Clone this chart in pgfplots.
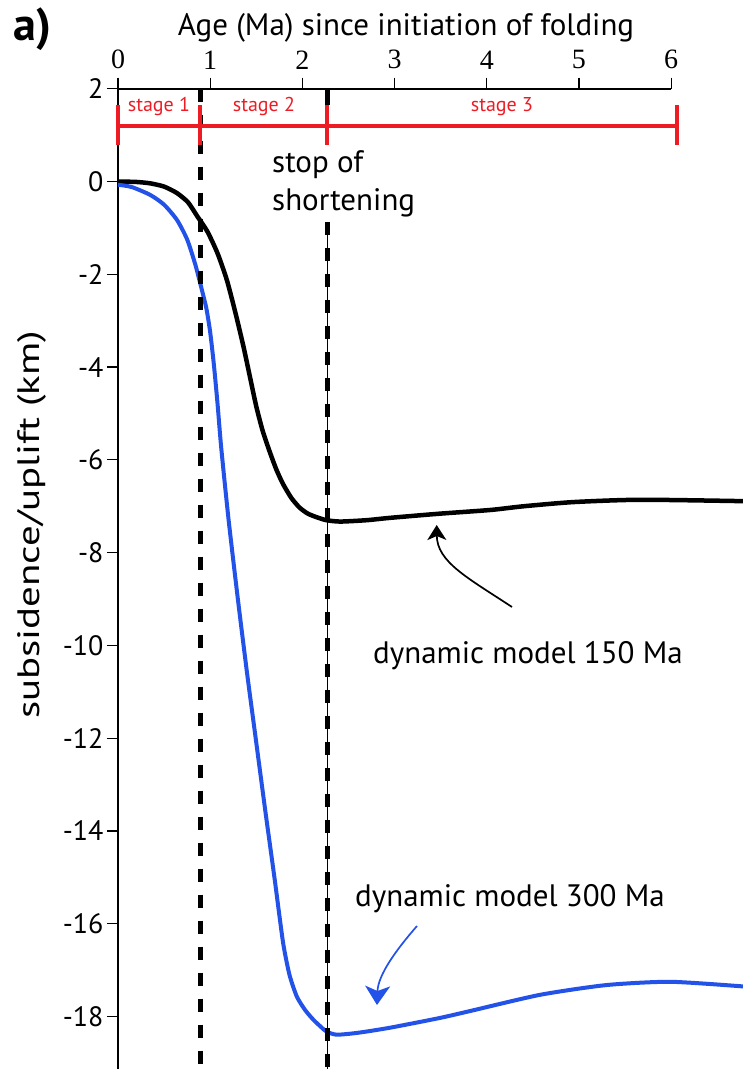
\documentclass[border=0pt]{standalone}
\usepackage{fontspec}
\setmainfont{PT Sans}
\newfontfamily\serifdigits{Liberation Serif}
\usepackage{pgfplots}
\pgfplotsset{compat=1.18}
\usetikzlibrary{arrows.meta}
\definecolor{stagered}{RGB}{237,28,36}
\definecolor{modelblue}{RGB}{35,82,232}

% subsidence/uplift (km) versus age since initiation of folding (Ma)
\pgfplotstableread{
x y
0.00 0.00
0.20 -0.01
0.35 -0.04
0.50 -0.11
0.64 -0.25
0.76 -0.45
0.86 -0.75
0.97 -1.08
1.08 -1.55
1.18 -2.12
1.27 -2.80
1.36 -3.55
1.43 -4.20
1.50 -4.85
1.57 -5.38
1.65 -5.85
1.72 -6.22
1.79 -6.52
1.88 -6.82
1.97 -7.03
2.06 -7.16
2.16 -7.24
2.26 -7.30
2.41 -7.33
2.70 -7.30
2.95 -7.25
3.49 -7.16
4.04 -7.08
4.40 -7.00
4.94 -6.91
5.66 -6.86
6.78 -6.89
}\modelonefifty

\pgfplotstableread{
x y
0.00 -0.07
0.15 -0.12
0.35 -0.29
0.50 -0.50
0.64 -0.83
0.75 -1.25
0.84 -1.80
0.92 -2.42
0.96 -2.75
1.00 -3.25
1.04 -3.95
1.08 -4.80
1.12 -5.75
1.20 -7.30
1.30 -9.00
1.40 -10.60
1.50 -12.10
1.60 -13.60
1.70 -15.05
1.79 -16.40
1.86 -17.10
1.94 -17.57
2.03 -17.86
2.12 -18.07
2.20 -18.22
2.26 -18.32
2.37 -18.39
2.60 -18.35
2.95 -18.24
3.49 -18.03
3.82 -17.88
4.58 -17.53
5.30 -17.32
5.99 -17.25
6.78 -17.35
}\modelthreehundred

\begin{document}
\begin{tikzpicture}
\path[use as bounding box] (0pt,0pt) rectangle (743pt,-1069pt);
\begin{axis}[
  at={(118pt,-1069pt)}, anchor=south west,
  scale only axis, width=625pt, height=980.3pt,
  xmin=0, xmax=6.779, ymin=-19.13, ymax=2,
  axis x line*=top, axis y line*=left,
  x axis line style={draw=none},
  y axis line style={line width=1.6pt},
  xtick={0,1,2,3,4,5,6},
  xticklabels={0,1,2,3,4,5,6},
  xticklabel style={font=\fontsize{28}{28}\serifdigits, yshift=5pt},
  ytick={-18,-16,-14,-12,-10,-8,-6,-4,-2,0,2},
  yticklabels={-18,-16,-14,-12,-10,-8,-6,-4,-2,0,2},
  yticklabel style={font=\fontsize{28}{28}\selectfont},
  tick align=outside,
  major tick length=11pt,
  every tick/.style={black, line width=1.2pt},
  clip=false,
]
% top age axis only spans 0--6 Ma
\draw[line width=1.6pt] (axis cs:0,2) -- (axis cs:6,2);

\addplot[black, line width=4.5pt, smooth, tension=0.4] table {\modelonefifty};
\addplot[modelblue, line width=4pt, smooth, tension=0.4] table {\modelthreehundred};

% stage boundaries
\addplot[black, line width=5pt, dash pattern=on 13pt off 13pt] coordinates {(0.89,2) (0.89,-19.05)};
\addplot[black, line width=5pt] coordinates {(2.27,2) (2.27,1.65)};
\addplot[black, line width=1.2pt] coordinates {(2.27,-0.87) (2.27,-19.13)};
\addplot[black, line width=5pt, dash pattern=on 13pt off 13pt] coordinates {(2.27,-0.87) (2.27,-19.13)};

% stage bar
\addplot[stagered, line width=4pt] coordinates {(0,1.20) (6.06,1.20)};
\addplot[stagered, line width=4pt] coordinates {(0,1.65) (0,0.78)};
\addplot[stagered, line width=4pt] coordinates {(0.89,1.65) (0.89,0.78)};
\addplot[stagered, line width=4pt] coordinates {(2.27,1.65) (2.27,0.78)};
\addplot[stagered, line width=4pt] coordinates {(6.06,1.65) (6.06,0.78)};
\end{axis}

\begin{scope}[every node/.style={inner sep=0pt}]
\node[stagered, anchor=base, font=\fontsize{20}{20}\selectfont] at (159pt,-111pt) {stage 1};
\node[stagered, anchor=base, font=\fontsize{20}{20}\selectfont] at (264pt,-111pt) {stage 2};
\node[stagered, anchor=base, font=\fontsize{20}{20}\selectfont] at (502pt,-111pt) {stage 3};

\node[anchor=base, font=\fontsize{31}{31}\selectfont] at (406pt,-35pt) {Age (Ma) since initiation of folding};
\node[anchor=base west, font=\fontsize{46}{46}\selectfont\bfseries] at (13pt,-40pt) {a)};
\node[rotate=90, xscale=1.32, font=\fontsize{31}{31}\selectfont] at (32pt,-525pt) {subsidence/uplift (km)};

\node[anchor=base west, font=\fontsize{31}{31}\selectfont] at (272pt,-172pt) {stop of};
\node[anchor=base west, font=\fontsize{31}{31}\selectfont] at (272pt,-210pt) {shortening};
\node[anchor=base west, font=\fontsize{31}{31}\selectfont] at (373pt,-663pt) {dynamic model 150 Ma};
\node[anchor=base west, font=\fontsize{31}{31}\selectfont] at (355pt,-906pt) {dynamic model 300 Ma};
\end{scope}

\draw[line width=1.7pt, -{Stealth[length=15pt, width=19pt, inset=4pt]}]
  (512pt,-607pt) .. controls (468pt,-578pt) and (437pt,-562pt) .. (436.7pt,-525pt);
\draw[modelblue, line width=1.7pt, -{Stealth[length=19pt, width=25pt, inset=5pt]}]
  (417pt,-926pt) .. controls (396pt,-950pt) and (378pt,-975pt) .. (377pt,-1005pt);
\end{tikzpicture}
\end{document}
